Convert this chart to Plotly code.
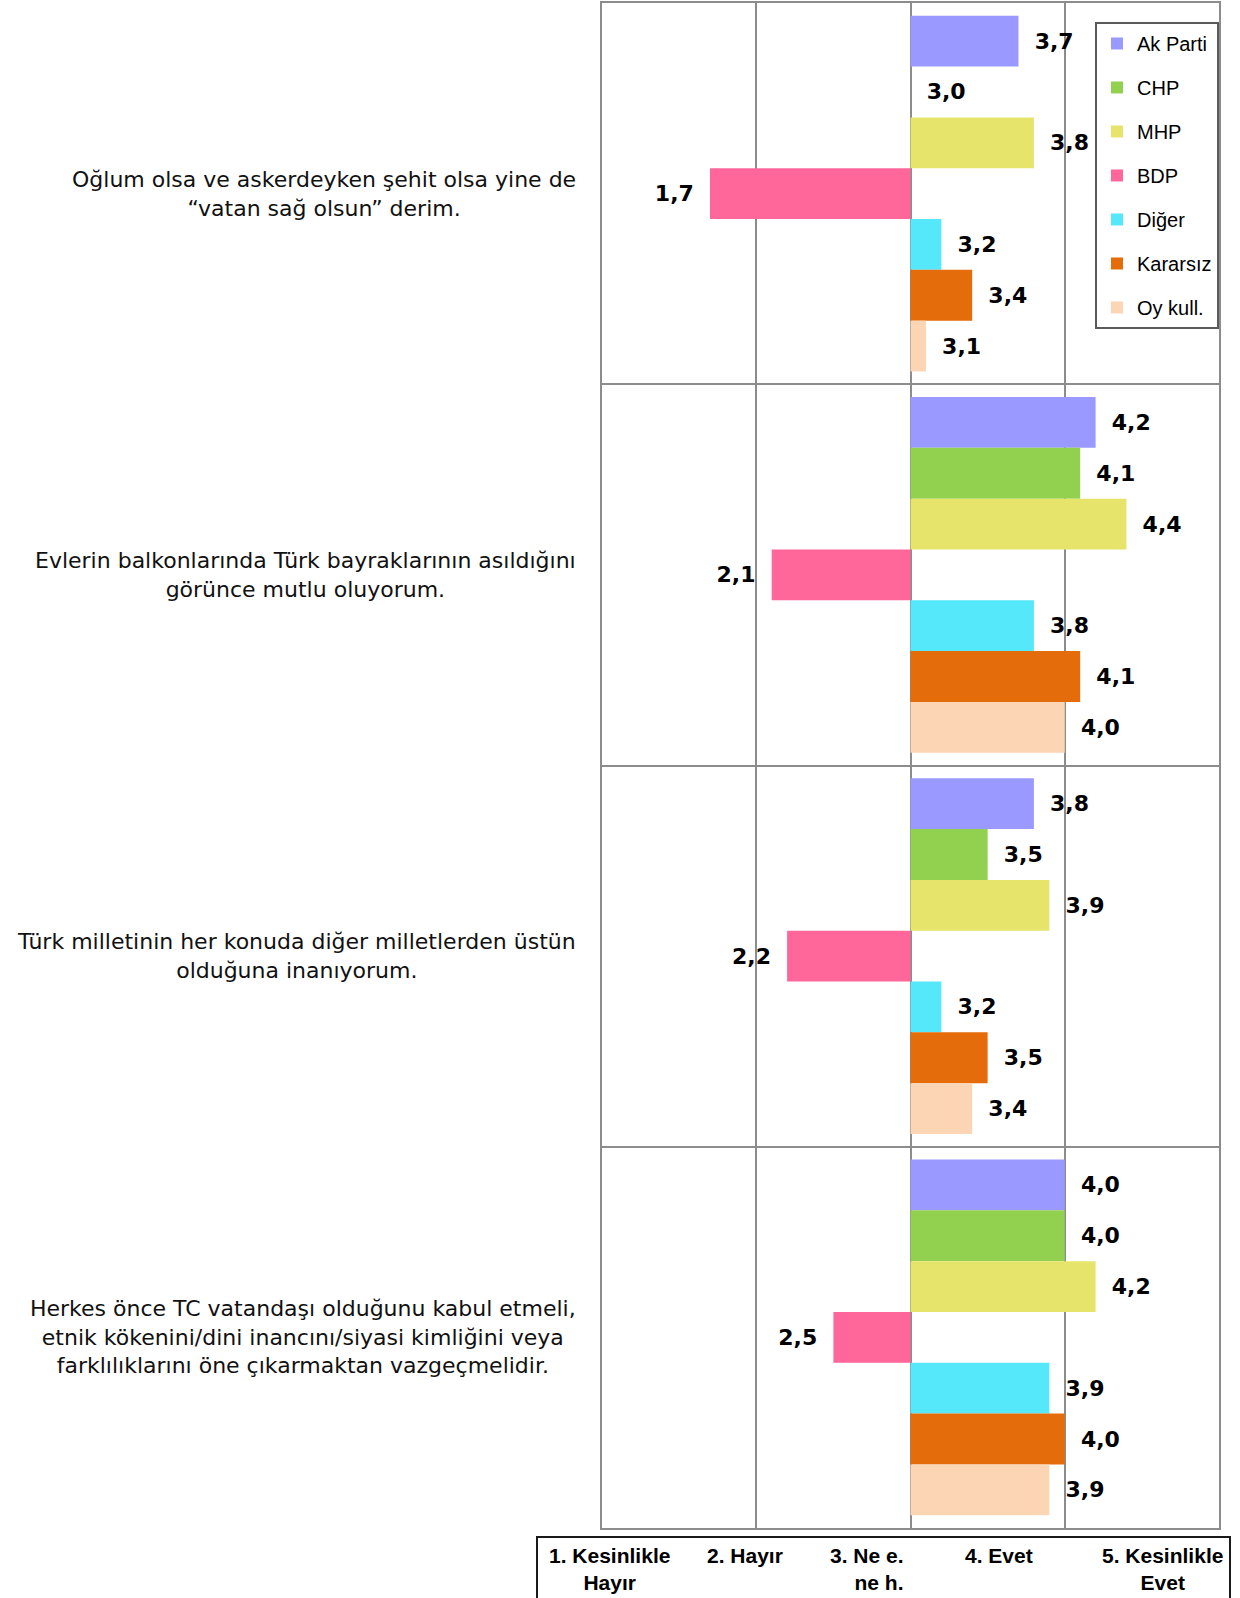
import plotly.graph_objects as go

# Survey statements (one row of bars each), top to bottom
statements = [
    "Oğlum olsa ve askerdeyken şehit olsa yine de<br>“vatan sağ olsun” derim.",
    "Evlerin balkonlarında Türk bayraklarının asıldığını<br>görünce mutlu oluyorum.",
    "Türk milletinin her konuda diğer milletlerden üstün<br>olduğuna inanıyorum.",
    "Herkes önce TC vatandaşı olduğunu kabul etmeli,<br>etnik kökenini/dini inancını/siyasi kimliğini veya<br>farklılıklarını öne çıkarmaktan vazgeçmelidir.",
]
category_ids = ["s1", "s2", "s3", "s4"]

parties = ["Ak Parti", "CHP", "MHP", "BDP", "Diğer", "Kararsız", "Oy kull."]

# Mean agreement score (1-5) per party for each statement
ak_parti = [3.7, 4.2, 3.8, 4.0]
chp = [3.0, 4.1, 3.5, 4.0]
mhp = [3.8, 4.4, 3.9, 4.2]
bdp = [1.7, 2.1, 2.2, 2.5]
diger = [3.2, 3.8, 3.2, 3.9]
kararsiz = [3.4, 4.1, 3.5, 4.0]
oy_kull = [3.1, 4.0, 3.4, 3.9]

series = [ak_parti, chp, mhp, bdp, diger, kararsiz, oy_kull]
colors = ["#9999FF", "#92D050", "#E6E46A", "#FF6699", "#55E7FA", "#E46C0A", "#FCD5B5"]

# Answer scale shown under the chart
scale_labels = [
    "1. Kesinlikle<br>Hayır",
    "2. Hayır",
    "3. Ne e.<br>ne h.",
    "4. Evet",
    "5. Kesinlikle<br>Evet",
]

MID = 3.0  # bars grow out of the neutral point
PAD = "\u00a0\u2005"


def fmt(v):
    s = f"{v:.1f}".replace(".", ",")
    return PAD + s if v >= MID else s + PAD


fig = go.Figure()
for name, vals, col in zip(parties, series, colors):
    fig.add_trace(go.Bar(
        name=name,
        orientation="h",
        y=category_ids,
        x=[v - MID for v in vals],
        base=MID,
        marker=dict(color=col, line=dict(width=0)),
        text=[fmt(v) for v in vals],
        textposition="outside",
        textangle=0,
        constraintext="none",
        cliponaxis=False,
        textfont=dict(family="DejaVu Sans", size=22, color="black", weight="bold"),
        legendgroup=name,
        hoverinfo="skip",
    ))

GRID = "#8c8c8c"
W, H = 1240, 1598
L, R, T, B = 602, 21, 1, 70
pw, ph = W - L - R, H - T - B


def px_x(x):
    return (x - L) / pw


def px_y(y):
    return (H - B - y) / ph


annotations = []
for cid, label in zip(category_ids, statements):
    annotations.append(dict(
        x=px_x(578), xref="paper", xanchor="right",
        y=cid, yref="y", yanchor="middle",
        text=label, align="center", showarrow=False,
        font=dict(family="DejaVu Sans", size=22, color="#111111"),
    ))

scale_pos = [(609, "center"), (745, "center"), (906, "right"), (999, "center"), (1162, "center")]
for (xp, anchor), lab in zip(scale_pos, scale_labels):
    annotations.append(dict(
        x=px_x(xp), xref="paper", xanchor=anchor,
        y=px_y(1542), yref="paper", yanchor="top",
        text=lab, align=anchor, showarrow=False,
        font=dict(family="Liberation Sans", size=21, color="black", weight="bold"),
    ))

fig.update_layout(
    width=W, height=H,
    margin=dict(l=L, r=R, t=T, b=B, pad=0),
    paper_bgcolor="white",
    plot_bgcolor="white",
    barmode="group",
    bargap=0.067,
    bargroupgap=0,
    showlegend=True,
    legend=dict(
        x=px_x(1095), xanchor="left",
        y=px_y(20), yanchor="top",
        traceorder="grouped",
        tracegroupgap=15,
        bgcolor="white",
        bordercolor="#5a5a5a",
        borderwidth=2,
        font=dict(family="Liberation Sans", size=20, color="black"),
    ),
    xaxis=dict(
        range=[1, 5], dtick=1, tick0=1,
        showgrid=True, gridcolor=GRID, gridwidth=2,
        zeroline=False,
        showline=True, mirror=True, linecolor=GRID, linewidth=2,
        showticklabels=False, ticks="",
        fixedrange=True,
    ),
    yaxis=dict(
        type="category",
        categoryorder="array", categoryarray=category_ids,
        autorange="reversed",
        tickson="boundaries",
        showgrid=True, gridcolor=GRID, gridwidth=2,
        showline=True, mirror=True, linecolor=GRID, linewidth=2,
        showticklabels=False, ticks="",
        fixedrange=True,
    ),
    shapes=[dict(
        type="rect", xref="paper", yref="paper",
        x0=px_x(537), x1=px_x(1230),
        y0=px_y(1537), y1=px_y(1640),
        line=dict(color="#1a1a1a", width=2),
        fillcolor="white", layer="above",
    )],
    annotations=annotations,
)

fig.write_html("out.html")
